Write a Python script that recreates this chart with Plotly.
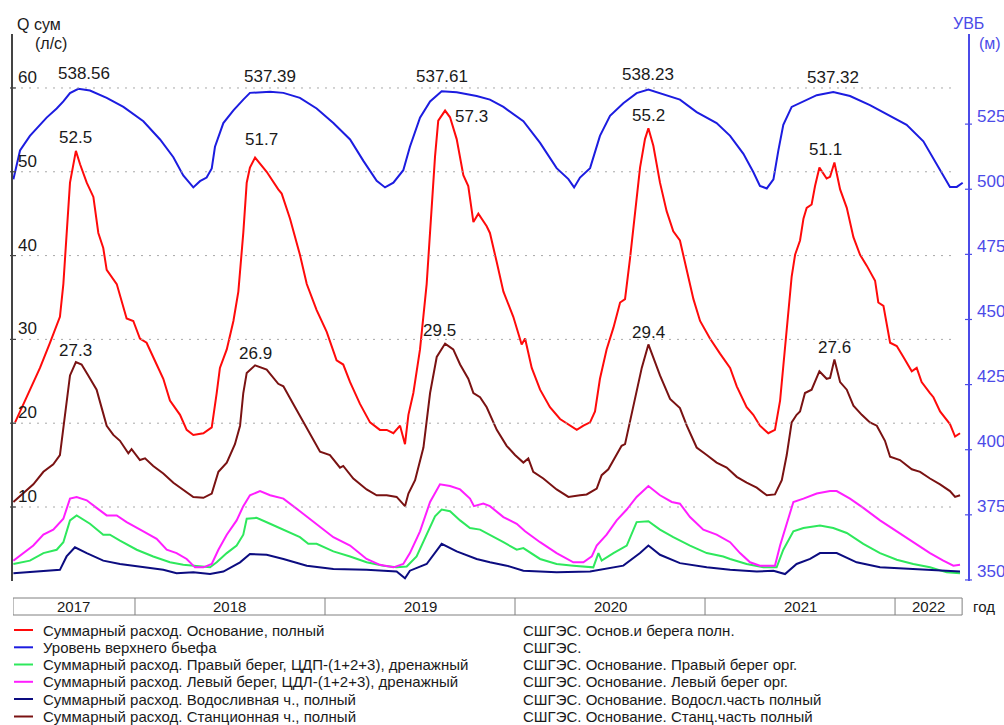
import plotly.graph_objects as go

FONT = "Liberation Sans, Arial, sans-serif"

# ---------------------------------------------------------------------------
# Measured series (time in decimal years)
# ---------------------------------------------------------------------------

# Уровень верхнего бьефа, м
uvb_t = [2017.360, 2017.395, 2017.447, 2017.500, 2017.535, 2017.588, 2017.623, 2017.658,
         2017.702, 2017.763, 2017.851, 2017.939, 2018.044, 2018.132, 2018.202, 2018.254,
         2018.307, 2018.342, 2018.377, 2018.404, 2018.421, 2018.465, 2018.518, 2018.570,
         2018.605, 2018.711, 2018.781, 2018.868, 2018.956, 2019.044, 2019.132, 2019.202,
         2019.272, 2019.316, 2019.360, 2019.412, 2019.447, 2019.500, 2019.553, 2019.614,
         2019.693, 2019.798,
         2019.868, 2019.939, 2020.044, 2020.132, 2020.219, 2020.281, 2020.311, 2020.342,
         2020.395, 2020.447, 2020.500, 2020.570, 2020.640, 2020.702, 2020.781, 2020.868,
         2020.956, 2021.061,
         2021.132, 2021.202, 2021.254, 2021.289, 2021.325, 2021.360, 2021.386, 2021.412,
         2021.456, 2021.518, 2021.588, 2021.675, 2021.763, 2021.868, 2021.974, 2022.061,
         2022.149, 2022.219, 2022.289, 2022.325, 2022.356]
uvb_m = [503.8, 514.9, 520.5, 524.7, 527.5, 531.0, 533.7, 536.9,
         538.56, 537.9, 535.1, 531.6, 526.1, 519.1, 512.3, 505.3,
         500.7, 503.1, 504.5, 508.0, 516.3, 525.4, 530.3, 534.4,
         537.0, 537.39, 537.0, 535.1, 531.0, 525.4, 519.1, 510.9,
         503.2, 500.7, 502.5, 507.3, 516.3, 527.5, 533.7, 537.61,
         537.2, 535.8,
         534.4, 531.6, 526.1, 517.8, 508.1, 503.9, 500.7, 504.5,
         508.1, 520.5, 528.2, 533.0, 536.9, 538.23, 536.5, 534.4,
         529.6, 525.4,
         520.5, 513.6, 506.6, 501.3, 500.3, 503.8, 514.9, 524.7,
         531.6, 533.7, 536.1, 537.32, 535.8, 532.3, 528.2, 524.7,
         518.4, 509.5, 500.9, 500.9, 502.5]

# Суммарный расход. Основание, полный, л/с
base_t = [2017.369, 2017.395, 2017.447, 2017.500, 2017.553, 2017.605, 2017.623, 2017.640,
          2017.658, 2017.689, 2017.711, 2017.746, 2017.781, 2017.807, 2017.833, 2017.851,
          2017.904, 2017.956, 2017.991, 2018.026, 2018.061, 2018.114, 2018.149, 2018.184,
          2018.237, 2018.272, 2018.307, 2018.360, 2018.404, 2018.430, 2018.447, 2018.483,
          2018.518, 2018.544, 2018.570, 2018.588,
          2018.605, 2018.632, 2018.693, 2018.754, 2018.772, 2018.816, 2018.868, 2018.904,
          2018.956, 2019.009, 2019.061, 2019.096, 2019.132, 2019.184, 2019.237, 2019.289,
          2019.325, 2019.360, 2019.395, 2019.421, 2019.439, 2019.465, 2019.500, 2019.535,
          2019.561, 2019.579, 2019.596, 2019.632, 2019.658, 2019.693, 2019.728, 2019.754,
          2019.781, 2019.807, 2019.851,
          2019.868, 2019.904, 2019.939, 2019.991, 2020.035, 2020.053, 2020.088, 2020.132,
          2020.184, 2020.237, 2020.289, 2020.325, 2020.360, 2020.395, 2020.421, 2020.447,
          2020.482, 2020.518, 2020.553, 2020.579, 2020.605, 2020.632, 2020.658, 2020.684,
          2020.702, 2020.728, 2020.763, 2020.798, 2020.833, 2020.868, 2020.904, 2020.939,
          2020.974, 2021.026, 2021.079,
          2021.132, 2021.167, 2021.219, 2021.254, 2021.289, 2021.333, 2021.368, 2021.395,
          2021.421, 2021.439, 2021.456, 2021.474, 2021.500, 2021.518, 2021.535, 2021.561,
          2021.579, 2021.602, 2021.640, 2021.658, 2021.681, 2021.711, 2021.746, 2021.781,
          2021.816, 2021.851, 2021.895, 2021.912, 2021.939, 2021.974, 2022.009, 2022.044,
          2022.088, 2022.114, 2022.140, 2022.184, 2022.202, 2022.237, 2022.289, 2022.316,
          2022.342]
base_q = [20.1, 21.4, 24.0, 26.6, 29.6, 32.7, 36.6, 42.7,
          48.7, 52.5, 50.9, 48.7, 47.0, 42.7, 40.9, 38.3,
          36.6, 32.5, 32.2, 30.1, 29.6, 27.0, 25.3, 22.7,
          21.0, 19.2, 18.6, 18.8, 19.5, 23.6, 26.6, 28.8,
          32.2, 35.7, 42.7, 48.7,
          50.5, 51.7, 50.0, 47.9, 47.4, 44.4, 40.1, 36.6,
          33.5, 30.9, 27.5, 27.0, 24.9, 22.3, 20.1, 19.2,
          19.2, 18.8, 19.7, 17.5, 21.0, 23.6, 28.8, 36.6,
          45.3, 51.8, 56.1, 57.3, 56.5, 53.9, 49.6, 48.3,
          44.0, 45.0, 43.5,
          42.7, 39.2, 35.7, 32.7, 29.4, 30.1, 26.6, 24.0,
          21.9, 20.5, 19.7, 19.2, 19.7, 20.1, 21.4, 25.3,
          28.8, 31.4, 34.4, 34.8, 39.6, 45.3, 50.5, 53.9,
          55.2, 53.1, 48.7, 45.3, 42.9, 41.8, 38.3, 34.8,
          32.2, 30.1, 28.3,
          26.6, 24.4, 21.9, 21.0, 19.7, 18.8, 19.2, 22.7,
          29.2, 34.0, 37.5, 40.1, 41.8, 44.4, 45.7, 46.1,
          48.3, 50.5, 49.2, 49.4, 51.1, 47.9, 45.7, 42.2,
          40.1, 38.8, 37.0, 34.4, 34.0, 29.6, 29.2, 27.9,
          26.2, 26.6, 24.9, 23.6, 23.1, 21.4, 19.9, 18.4,
          18.8]

# Суммарный расход. Станционная ч., полный, л/с
station_t = [2017.360, 2017.412, 2017.465, 2017.518, 2017.570, 2017.605, 2017.632, 2017.658,
             2017.689, 2017.719, 2017.754, 2017.798, 2017.825, 2017.851, 2017.886, 2017.921,
             2017.965, 2017.982, 2018.026, 2018.053, 2018.096, 2018.149, 2018.202, 2018.254,
             2018.307, 2018.360, 2018.404, 2018.439, 2018.483, 2018.526, 2018.553, 2018.570,
             2018.588,
             2018.632, 2018.693, 2018.754, 2018.781, 2018.833, 2018.886, 2018.939, 2018.974,
             2019.026, 2019.079, 2019.096, 2019.149, 2019.219, 2019.272, 2019.325, 2019.377,
             2019.421, 2019.439, 2019.474, 2019.518, 2019.553, 2019.588, 2019.632, 2019.675,
             2019.711, 2019.754, 2019.781, 2019.816, 2019.851,
             2019.904, 2019.956, 2020.000, 2020.044, 2020.070, 2020.096, 2020.149, 2020.219,
             2020.281, 2020.342, 2020.377, 2020.430, 2020.456, 2020.491, 2020.535, 2020.561,
             2020.579, 2020.605, 2020.640, 2020.667, 2020.702, 2020.728, 2020.763, 2020.816,
             2020.868, 2020.904, 2020.956, 2021.009, 2021.061, 2021.114,
             2021.167, 2021.219, 2021.272, 2021.325, 2021.368, 2021.404, 2021.430, 2021.456,
             2021.482, 2021.500, 2021.526, 2021.561, 2021.602, 2021.640, 2021.658, 2021.681,
             2021.711, 2021.746, 2021.781, 2021.825, 2021.868, 2021.904, 2021.947, 2021.974,
             2022.026, 2022.088, 2022.132, 2022.184, 2022.237, 2022.289, 2022.316, 2022.342]
station_q = [10.6, 11.6, 12.7, 14.2, 15.1, 16.2, 21.4, 25.7,
             27.3, 27.0, 25.7, 24.0, 21.8, 19.7, 18.6, 17.9,
             16.4, 16.9, 15.6, 15.8, 14.9, 14.0, 12.9, 12.1,
             11.2, 11.1, 11.6, 14.2, 15.3, 17.5, 19.7, 23.6,
             26.0,
             26.9, 26.4, 24.7, 24.4, 22.3, 20.1, 17.9, 16.6,
             16.2, 14.7, 14.9, 13.4, 12.1, 11.4, 11.4, 11.2,
             10.1, 11.6, 13.2, 17.1, 23.6, 27.9, 29.5, 28.8,
             27.0, 25.3, 23.6, 23.1, 21.9,
             19.2, 17.3, 16.2, 15.3, 15.8, 14.2, 13.4, 12.1,
             11.2, 11.4, 11.5, 12.2, 13.8, 14.5, 16.2, 17.3,
             17.5, 20.1, 23.6, 26.6, 29.4, 27.9, 25.7, 22.9,
             21.8, 19.7, 17.1, 16.2, 15.3, 14.7,
             13.6, 12.9, 12.3, 11.4, 11.5, 13.2, 16.2, 20.1,
             21.0, 21.4, 23.6, 24.0, 26.2, 25.3, 25.4, 27.6,
             24.9, 24.0, 22.1, 21.0, 20.1, 19.7, 17.9, 16.0,
             15.6, 14.5, 14.2, 13.4, 12.7, 11.9, 11.2, 11.4]

# Суммарный расход. Левый берег, ЦДЛ-(1+2+3), дренажный, л/с
left_t = [2017.360, 2017.412, 2017.465, 2017.518, 2017.570, 2017.623, 2017.658, 2017.693,
          2017.746, 2017.798, 2017.851, 2017.904, 2017.956, 2018.044, 2018.114, 2018.167,
          2018.219, 2018.272, 2018.316, 2018.360, 2018.404, 2018.439, 2018.483, 2018.535,
          2018.570,
          2018.605, 2018.658, 2018.711, 2018.781, 2018.868, 2018.956, 2019.044, 2019.132,
          2019.219, 2019.289, 2019.360, 2019.412, 2019.447, 2019.500, 2019.553, 2019.605,
          2019.658, 2019.711, 2019.763, 2019.784, 2019.833,
          2019.868, 2019.939, 2020.009, 2020.053, 2020.132, 2020.219, 2020.307, 2020.360,
          2020.404, 2020.430, 2020.482, 2020.535, 2020.588, 2020.640, 2020.702, 2020.763,
          2020.825, 2020.868, 2020.921, 2020.991, 2021.061,
          2021.132, 2021.184, 2021.237, 2021.289, 2021.368, 2021.395, 2021.439, 2021.465,
          2021.518, 2021.588, 2021.658, 2021.693, 2021.763, 2021.833, 2021.921, 2022.009,
          2022.096, 2022.184, 2022.254, 2022.307, 2022.342]
left_q = [3.6, 4.5, 5.4, 6.7, 7.3, 8.6, 11.0, 11.2,
          10.8, 9.9, 9.0, 9.0, 8.2, 7.1, 6.2, 4.9,
          4.5, 3.8, 2.8, 2.8, 3.2, 4.9, 6.7, 8.4,
          10.1,
          11.4, 11.9, 11.4, 11.0, 9.5, 8.0, 6.4, 5.4,
          3.8, 3.1, 2.8, 3.2, 4.5, 7.1, 10.6, 12.7,
          12.5, 12.1, 11.0, 10.1, 10.4,
          10.1, 8.8, 8.0, 7.1, 5.8, 4.5, 3.4, 3.4,
          4.1, 5.4, 6.7, 8.4, 9.7, 11.2, 12.5, 11.4,
          10.6, 10.4, 8.8, 7.3, 6.7,
          5.8, 4.5, 3.4, 3.0, 3.0, 5.4, 8.8, 10.6,
          11.0, 11.6, 11.9, 11.9, 11.0, 9.9, 8.4, 7.1,
          5.8, 4.5, 3.6, 3.0, 3.1]

# Суммарный расход. Правый берег, ЦДП-(1+2+3), дренажный, л/с
right_t = [2017.360, 2017.447, 2017.518, 2017.588, 2017.623, 2017.658, 2017.693, 2017.763,
           2017.833, 2017.868, 2017.921, 2018.009, 2018.096, 2018.184, 2018.254, 2018.316,
           2018.395, 2018.430, 2018.483, 2018.535, 2018.570, 2018.588,
           2018.640, 2018.711, 2018.781, 2018.868, 2018.912, 2018.956, 2019.044, 2019.132,
           2019.219, 2019.307, 2019.377, 2019.430, 2019.482, 2019.535, 2019.579, 2019.614,
           2019.658, 2019.711, 2019.763, 2019.816,
           2019.868, 2019.939, 2020.009, 2020.044, 2020.132, 2020.219, 2020.307, 2020.412,
           2020.439, 2020.456, 2020.518, 2020.588, 2020.640, 2020.702, 2020.763, 2020.833,
           2020.921, 2021.009, 2021.096,
           2021.132, 2021.219, 2021.307, 2021.377, 2021.412, 2021.465, 2021.518, 2021.605,
           2021.675, 2021.746, 2021.833, 2021.921, 2022.009, 2022.096, 2022.184, 2022.272,
           2022.342]
right_q = [3.2, 3.6, 4.5, 4.9, 5.8, 8.4, 9.0, 8.0,
           6.7, 6.7, 6.0, 4.9, 4.1, 3.4, 3.1, 3.0,
           2.8, 3.4, 4.5, 5.4, 6.7, 8.6,
           8.7, 8.0, 7.3, 6.4, 5.6, 5.6, 4.7, 4.1,
           3.4, 3.0, 2.8, 2.9, 4.1, 6.7, 8.9, 9.7,
           9.5, 8.4, 7.5, 7.3,
           6.7, 5.8, 4.9, 5.1, 3.8, 3.2, 3.0, 2.8,
           4.5, 3.6, 4.5, 5.4, 8.2, 8.3, 7.3, 6.4,
           5.4, 4.5, 4.1,
           3.8, 3.2, 2.8, 2.8, 4.9, 7.1, 7.5, 7.8,
           7.5, 6.9, 5.6, 4.5, 3.7, 3.2, 2.8, 2.2,
           2.1]

# Суммарный расход. Водосливная ч., полный, л/с
spill_t = [2017.360, 2017.482, 2017.605, 2017.640, 2017.684, 2017.746, 2017.833, 2017.921,
           2018.044, 2018.149, 2018.219, 2018.307, 2018.395, 2018.465, 2018.553,
           2018.605, 2018.693, 2018.781, 2018.904, 2019.044, 2019.219, 2019.377, 2019.421,
           2019.447, 2019.535, 2019.614, 2019.693, 2019.798,
           2019.868, 2019.956, 2020.044, 2020.219, 2020.395, 2020.570, 2020.658, 2020.702,
           2020.763, 2020.868, 2021.009,
           2021.132, 2021.272, 2021.360, 2021.421, 2021.482, 2021.553, 2021.605, 2021.693,
           2021.798, 2021.921, 2022.096, 2022.272, 2022.342]
spill_q = [2.1, 2.3, 2.5, 4.1, 5.2, 4.5, 3.6, 3.2,
           2.8, 2.5, 2.1, 2.2, 2.0, 2.3, 3.4,
           4.4, 4.3, 3.8, 3.0, 2.6, 2.5, 2.3, 1.5,
           2.4, 3.2, 5.6, 4.7, 3.8,
           3.4, 3.0, 2.4, 2.2, 2.3, 3.0, 4.5, 5.4,
           4.3, 3.3, 2.8,
           2.5, 2.3, 2.4, 2.0, 3.2, 3.8, 4.5, 4.5,
           3.4, 2.8, 2.6, 2.4, 2.3]

years = [2017, 2018, 2019, 2020, 2021, 2022]
q_ticks = [10, 20, 30, 40, 50, 60]
uvb_ticks = [350, 375, 400, 425, 450, 475, 500, 525]

legend_names = [
    "Суммарный расход. Основание, полный",
    "Уровень верхнего бьефа",
    "Суммарный расход. Правый берег, ЦДП-(1+2+3), дренажный",
    "Суммарный расход. Левый берег, ЦДЛ-(1+2+3), дренажный",
    "Суммарный расход. Водосливная ч., полный",
    "Суммарный расход. Станционная ч., полный",
]
legend_sources = [
    "СШГЭС. Основ.и берега полн.",
    "СШГЭС.",
    "СШГЭС. Основание. Правый берег орг.",
    "СШГЭС. Основание. Левый берег орг.",
    "СШГЭС. Основание. Водосл.часть полный",
    "СШГЭС. Основание. Станц.часть полный",
]

# ---------------------------------------------------------------------------
# Layout geometry (pixels)
# ---------------------------------------------------------------------------
W, H = 1004, 725
PLOT_L, PLOT_R, PLOT_T, PLOT_B = 13, 968, 34, 581
X_RANGE = [2017.358, 2022.384]
X_END = 2022.353           # right edge of the year strip
Q_RANGE = [1.17, 66.44]
UVB_RANGE = [349.6, 559.6]

C_BASE = "#ff0a0a"
C_UVB = "#1c1ce0"
C_RIGHT = "#2ee85c"
C_LEFT = "#ff1eff"
C_SPILL = "#0c0c80"
C_STATION = "#7a1212"
C_AXIS_R = "#4b4be8"
C_TEXT = "#1a1a1a"


def py(ypix):
    """pixel row -> paper y"""
    return (PLOT_B - ypix) / (PLOT_B - PLOT_T)


def px(xpix):
    """pixel column -> paper x"""
    return (xpix - PLOT_L) / (PLOT_R - PLOT_L)


series = [
    dict(t=base_t, v=base_q, color=C_BASE, axis="y"),
    dict(t=uvb_t, v=uvb_m, color=C_UVB, axis="y2"),
    dict(t=right_t, v=right_q, color=C_RIGHT, axis="y"),
    dict(t=left_t, v=left_q, color=C_LEFT, axis="y"),
    dict(t=spill_t, v=spill_q, color=C_SPILL, axis="y"),
    dict(t=station_t, v=station_q, color=C_STATION, axis="y"),
]
for s in series:
    assert len(s["t"]) == len(s["v"]), (len(s["t"]), len(s["v"]))

fig = go.Figure()
draw_order = [2, 3, 4, 5, 0, 1]
for i in draw_order:
    s = series[i]
    fig.add_trace(go.Scatter(
        x=s["t"], y=s["v"], mode="lines", yaxis=s["axis"],
        name=legend_names[i], showlegend=False,
        line=dict(color=s["color"], width=2),
    ))

shapes = []
annotations = []

# dotted grid for the discharge axis
for v in q_ticks:
    shapes.append(dict(type="line", xref="paper", yref="y", x0=0, x1=px(953),
                       y0=v, y1=v, line=dict(color="#a8a8a8", width=1, dash="2px,6px")))
    shapes.append(dict(type="line", xref="paper", yref="y", xsizemode="pixel", xanchor=0,
                       x0=-3, x1=3, y0=v, y1=v, line=dict(color="#444", width=1.2)))
    annotations.append(dict(text=str(v), xref="paper", yref="y", x=0, y=v,
                            xanchor="left", yanchor="bottom", xshift=3, yshift=-1,
                            showarrow=False, font=dict(size=17, color=C_TEXT)))

for v in uvb_ticks:
    shapes.append(dict(type="line", xref="paper", yref="y2", xsizemode="pixel", xanchor=1,
                       x0=-3, x1=4, y0=v, y1=v, line=dict(color=C_AXIS_R, width=1.2)))
    annotations.append(dict(text=str(v), xref="paper", yref="y2", x=1, y=v,
                            xanchor="left", yanchor="middle", xshift=7, yshift=8,
                            showarrow=False, font=dict(size=17, color=C_AXIS_R)))

# axis titles
annotations += [
    dict(text="Q сум", xref="paper", yref="paper", x=px(15), y=py(24), xanchor="left",
         yanchor="middle", showarrow=False, font=dict(size=16, color=C_TEXT)),
    dict(text="(л/с)", xref="paper", yref="paper", x=px(33), y=py(43), xanchor="left",
         yanchor="middle", showarrow=False, font=dict(size=16, color=C_TEXT)),
    dict(text="УВБ", xref="paper", yref="paper", x=px(951), y=py(23), xanchor="left",
         yanchor="middle", showarrow=False, font=dict(size=16, color=C_AXIS_R)),
    dict(text="(м)", xref="paper", yref="paper", x=px(977), y=py(43), xanchor="left",
         yanchor="middle", showarrow=False, font=dict(size=16, color=C_AXIS_R)),
]


# yearly maxima labelled above each peak
def yearly_peaks(t, v):
    out = []
    for yr in years[:-1]:
        idx = [k for k, x in enumerate(t) if yr <= x < yr + 1]
        k = max(idx, key=lambda j: v[j])
        out.append((yr, t[k], v[k]))
    return out


label_specs = [
    (uvb_t, uvb_m, "y2", "{:.2f}", 15, {2017: (6, 15)}),
    (base_t, base_q, "y", "{:.1f}", 13, {2019: (26, -6), 2018: (6, 18), 2021: (-9, 13)}),
    (station_t, station_q, "y", "{:.1f}", 12, {2019: (-6, 13)}),
]
for t, v, yref, fmt, dy, special in label_specs:
    for yr, tx, vy in yearly_peaks(t, v):
        dx, sy = special.get(yr, (0, dy))
        annotations.append(dict(text=fmt.format(vy), xref="x", yref=yref, x=tx, y=vy,
                                xanchor="center", yanchor="middle", xshift=dx, yshift=sy,
                                showarrow=False, font=dict(size=17, color=C_TEXT)))

# year strip under the plot
strip_top, strip_bot = py(598), py(615)
shapes.append(dict(type="rect", xref="x", yref="paper", x0=X_RANGE[0], x1=X_END,
                   y0=strip_bot, y1=strip_top, line=dict(color="#808080", width=1)))
for yr in years[1:]:
    shapes.append(dict(type="line", xref="x", yref="paper", x0=yr, x1=yr,
                       y0=strip_bot, y1=strip_top, line=dict(color="#808080", width=1)))
for yr in years:
    a = max(yr, X_RANGE[0])
    b = min(yr + 1, X_END)
    annotations.append(dict(text=str(yr), xref="x", yref="paper", x=(a + b) / 2,
                            y=(strip_top + strip_bot) / 2, xanchor="center", yanchor="middle",
                            showarrow=False, font=dict(size=15, color=C_TEXT)))
annotations.append(dict(text="год", xref="paper", yref="paper", x=px(971),
                        y=(strip_top + strip_bot) / 2, xanchor="left", yanchor="middle",
                        showarrow=False, font=dict(size=15, color=C_TEXT)))

# legend block
row_y = [630, 647.3, 664.5, 681.8, 699, 716.5]
for i, s in enumerate(series):
    yy = py(row_y[i])
    shapes.append(dict(type="line", xref="paper", yref="paper", x0=px(14), x1=px(33),
                       y0=yy, y1=yy, line=dict(color=s["color"], width=2)))
    annotations.append(dict(text=legend_names[i], xref="paper", yref="paper", x=px(41), y=yy,
                            xanchor="left", yanchor="middle", showarrow=False,
                            font=dict(size=15, color=C_TEXT)))
    annotations.append(dict(text=legend_sources[i], xref="paper", yref="paper", x=px(521),
                            y=yy, xanchor="left", yanchor="middle", showarrow=False,
                            font=dict(size=15, color=C_TEXT)))

fig.update_layout(
    width=W, height=H,
    margin=dict(l=PLOT_L, r=W - PLOT_R, t=PLOT_T, b=H - PLOT_B),
    paper_bgcolor="white", plot_bgcolor="white",
    font=dict(family=FONT, size=15, color=C_TEXT),
    showlegend=False,
    xaxis=dict(range=X_RANGE, showgrid=False, zeroline=False, showline=False,
               showticklabels=False, ticks=""),
    yaxis=dict(range=Q_RANGE, showgrid=False, zeroline=False, showline=True,
               linecolor="#444444", linewidth=1.5, showticklabels=False, ticks=""),
    yaxis2=dict(range=UVB_RANGE, overlaying="y", side="right", showgrid=False,
                zeroline=False, showline=True, linecolor=C_AXIS_R, linewidth=1.5,
                showticklabels=False, ticks=""),
    shapes=shapes,
    annotations=annotations,
)

fig.write_html("out.html")
